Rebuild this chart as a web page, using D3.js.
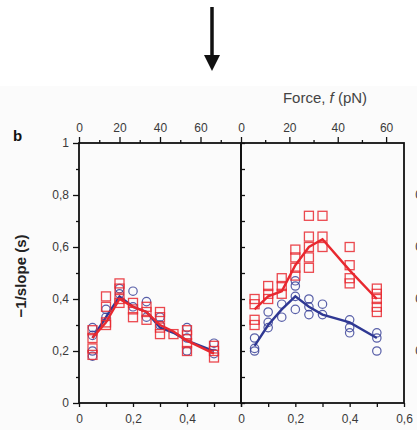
<!DOCTYPE html>
<html>
<head>
<meta charset="utf-8">
<script src="https://cdn.jsdelivr.net/npm/d3@7/dist/d3.min.js"></script>
<style>
  body { margin: 0; background: #fff; }
  text { font-family: "Liberation Sans", Arial, sans-serif; fill: #3a3a3a; }
</style>
</head>
<body>
<script>
// ---- data ----
// left panel (x = distance, y = -1/slope)
var leftRed = [
  [0.05,0.28],[0.05,0.25],[0.05,0.21],[0.05,0.185],
  [0.1,0.41],[0.1,0.37],[0.1,0.31],[0.1,0.30],
  [0.15,0.46],[0.15,0.44],[0.15,0.40],[0.15,0.385],
  [0.2,0.385],[0.2,0.36],[0.2,0.33],
  [0.25,0.37],[0.25,0.35],[0.25,0.32],
  [0.3,0.35],[0.3,0.33],[0.3,0.29],[0.3,0.265],
  [0.35,0.265],
  [0.4,0.28],[0.4,0.26],[0.4,0.23],[0.4,0.20],
  [0.5,0.22],[0.5,0.20],[0.5,0.175]
];
var leftBlue = [
  [0.05,0.29],[0.05,0.26],[0.05,0.20],[0.05,0.18],
  [0.1,0.36],[0.1,0.33],
  [0.15,0.44],[0.15,0.42],
  [0.2,0.43],[0.2,0.37],
  [0.25,0.39],[0.25,0.33],
  [0.3,0.33],[0.3,0.30],
  [0.4,0.29],[0.4,0.25],[0.4,0.20],
  [0.5,0.23],[0.5,0.19]
];
var leftRedLine = [[0.05,0.25],[0.1,0.31],[0.15,0.40],[0.2,0.37],[0.25,0.35],[0.3,0.30],[0.35,0.275],[0.4,0.24],[0.5,0.19]];
var leftBlueLine = [[0.05,0.25],[0.1,0.33],[0.15,0.41],[0.2,0.37],[0.25,0.35],[0.3,0.29],[0.35,0.27],[0.4,0.24],[0.45,0.22],[0.5,0.20]];

// right panel
var rightRed = [
  [0.05,0.40],[0.05,0.38],[0.05,0.32],[0.05,0.30],
  [0.1,0.45],[0.1,0.42],[0.1,0.40],
  [0.15,0.48],[0.15,0.45],[0.15,0.42],
  [0.2,0.59],[0.2,0.56],[0.2,0.52],[0.2,0.49],
  [0.25,0.72],[0.25,0.64],[0.25,0.60],[0.25,0.56],[0.25,0.52],
  [0.3,0.72],[0.3,0.64],[0.3,0.60],
  [0.4,0.60],[0.4,0.53],[0.4,0.48],[0.4,0.46],
  [0.5,0.44],[0.5,0.42],[0.5,0.40],[0.5,0.37],[0.5,0.35]
];
var rightBlue = [
  [0.05,0.25],[0.05,0.21],[0.05,0.20],
  [0.1,0.35],[0.1,0.31],[0.1,0.29],
  [0.15,0.38],[0.15,0.33],
  [0.2,0.47],[0.2,0.45],[0.2,0.41],[0.2,0.36],
  [0.25,0.40],[0.25,0.37],[0.25,0.34],
  [0.3,0.38],[0.3,0.34],
  [0.4,0.32],[0.4,0.29],[0.4,0.27],
  [0.5,0.27],[0.5,0.25],[0.5,0.20]
];
var rightRedLine = [[0.05,0.36],[0.1,0.41],[0.15,0.43],[0.2,0.53],[0.25,0.60],[0.3,0.63],[0.4,0.51],[0.5,0.40]];
var rightBlueLine = [[0.05,0.22],[0.1,0.30],[0.15,0.36],[0.2,0.41],[0.25,0.37],[0.3,0.34],[0.4,0.31],[0.5,0.25]];

// ticks
var yMajor = [0, 0.2, 0.4, 0.6, 0.8, 1];
var yMajorLabels = ['0', '0,2', '0,4', '0,6', '0,8', '1'];
var yMinor = [0.1, 0.3, 0.5, 0.7, 0.9];
var xTicks = [0, 0.1, 0.2, 0.3, 0.4, 0.5, 0.6];
var xLabelsLeft = [0, 0.2, 0.4];
var xLabelsRight = [0, 0.2, 0.4, 0.6];
var forceMajor = [0, 20, 40, 60];
var forceMinor = [10, 30, 50, 70];
var forceMaxLeft = 80;
var forceMaxRight = 67.4;

var red = '#e8282f', blue = '#2f3893';
var width = 417, height = 430;
var plotTop = 143, plotBottom = 403;

var svg = d3.select('body').append('svg')
  .attr('width', width).attr('height', height);

svg.append('rect').attr('x', 0).attr('y', 86).attr('width', width).attr('height', height - 86)
  .attr('fill', '#fbfbfb');

// arrow
svg.append('line').attr('x1', 212).attr('x2', 212).attr('y1', 7).attr('y2', 58)
  .attr('stroke', '#111').attr('stroke-width', 3.5);
svg.append('path').attr('d', 'M204,55 L220,55 L212,71 Z').attr('fill', '#111');

var yScale = d3.scaleLinear().domain([0, 1]).range([plotBottom, plotTop]);
var fmtY = function(d){ return yMajorLabels[yMajor.indexOf(d)]; };
var fmtX = function(d){ return d === 0 ? '0' : String(d).replace('.', ','); };

var panels = [
  {x0: 79, x1: 241, fmax: forceMaxLeft, labels: xLabelsLeft, red: leftRed, blue: leftBlue, redLine: leftRedLine, blueLine: leftBlueLine},
  {x0: 241, x1: 404, fmax: forceMaxRight, labels: xLabelsRight, red: rightRed, blue: rightBlue, redLine: rightRedLine, blueLine: rightBlueLine}
];

panels.forEach(function(p, i){
  var xScale = d3.scaleLinear().domain([0, 0.6]).range([p.x0, p.x1]);
  var fScale = d3.scaleLinear().domain([0, p.fmax]).range([p.x0, p.x1]);
  var g = svg.append('g');

  // bottom axis
  g.append('g').attr('transform', 'translate(0,' + plotBottom + ')')
    .call(d3.axisBottom(xScale).tickValues(xTicks).tickSize(4).tickPadding(7)
      .tickFormat(function(d){ return p.labels.indexOf(d) >= 0 ? fmtX(d) : ''; }));
  // top force axis
  g.append('g').attr('transform', 'translate(0,' + plotTop + ')')
    .call(d3.axisTop(fScale).tickValues(forceMajor).tickSize(6).tickPadding(5));
  g.append('g').attr('transform', 'translate(0,' + plotTop + ')')
    .call(d3.axisTop(fScale).tickValues(forceMinor.filter(function(d){ return d < p.fmax; }))
      .tickSize(3).tickFormat(''));

  if (i === 0) {
    g.append('g').attr('transform', 'translate(' + p.x0 + ',0)')
      .call(d3.axisLeft(yScale).tickValues(yMajor).tickSize(6).tickPadding(4).tickFormat(fmtY));
    g.append('g').attr('transform', 'translate(' + p.x0 + ',0)')
      .call(d3.axisLeft(yScale).tickValues(yMinor).tickSize(3).tickFormat(''));
  } else {
    g.append('g').attr('transform', 'translate(' + p.x0 + ',0)')
      .call(d3.axisRight(yScale).tickValues(yMajor.concat(yMinor)).tickSize(4).tickFormat(''));
  }

  g.selectAll('.domain').remove();
  g.selectAll('.tick line').attr('stroke', '#111').attr('stroke-width', 1.3);
  g.selectAll('.tick text').attr('font-size', 12).attr('fill', '#3a3a3a');

  // frame
  g.append('rect').attr('x', p.x0).attr('y', plotTop)
    .attr('width', p.x1 - p.x0).attr('height', plotBottom - plotTop)
    .attr('fill', 'none').attr('stroke', '#111').attr('stroke-width', 1.8);

  var line = d3.line()
    .x(function(d){ return xScale(d[0]); })
    .y(function(d){ return yScale(d[1]); });

  g.selectAll('circle.pt').data(p.blue).enter().append('circle')
    .attr('class', 'pt')
    .attr('cx', function(d){ return xScale(d[0]); })
    .attr('cy', function(d){ return yScale(d[1]); })
    .attr('r', 4.2)
    .attr('fill', 'none').attr('stroke', blue).attr('stroke-width', 1.2).attr('opacity', 0.8);
  g.append('path').datum(p.blueLine).attr('d', line)
    .attr('fill', 'none').attr('stroke', blue).attr('stroke-width', 2.4);

  g.selectAll('rect.pt').data(p.red).enter().append('rect')
    .attr('class', 'pt')
    .attr('x', function(d){ return xScale(d[0]) - 4.5; })
    .attr('y', function(d){ return yScale(d[1]) - 4.5; })
    .attr('width', 9).attr('height', 9)
    .attr('fill', 'none').attr('stroke', red).attr('stroke-width', 1.3).attr('opacity', 0.85);
  g.append('path').datum(p.redLine).attr('d', line)
    .attr('fill', 'none').attr('stroke', red).attr('stroke-width', 2.4);
});

// labels
svg.append('text').attr('x', 13).attr('y', 141).attr('font-size', 15).attr('font-weight', 'bold')
  .style('fill', '#111').text('b');
svg.append('text').attr('transform', 'translate(26,276) rotate(-90)').attr('text-anchor', 'middle')
  .attr('font-size', 15).attr('font-weight', 'bold').style('fill', '#222').text('\u22121/slope (s)');
var ft = svg.append('text').attr('x', 325).attr('y', 103).attr('text-anchor', 'middle')
  .attr('font-size', 15).style('fill', '#444');
ft.append('tspan').text('Force, ');
ft.append('tspan').attr('font-style', 'italic').text('f');
ft.append('tspan').text(' (pN)');

// partial labels of the next panel, cut by the window edge
svg.selectAll('text.next').data(yMajor.slice(1)).enter().append('text')
  .attr('class', 'next')
  .attr('x', 432).attr('y', function(d){ return yScale(d); }).attr('dy', '0.35em')
  .attr('text-anchor', 'end').attr('font-size', 12)
  .text(function(d){ return fmtY(d); });
</script>
</body>
</html>
